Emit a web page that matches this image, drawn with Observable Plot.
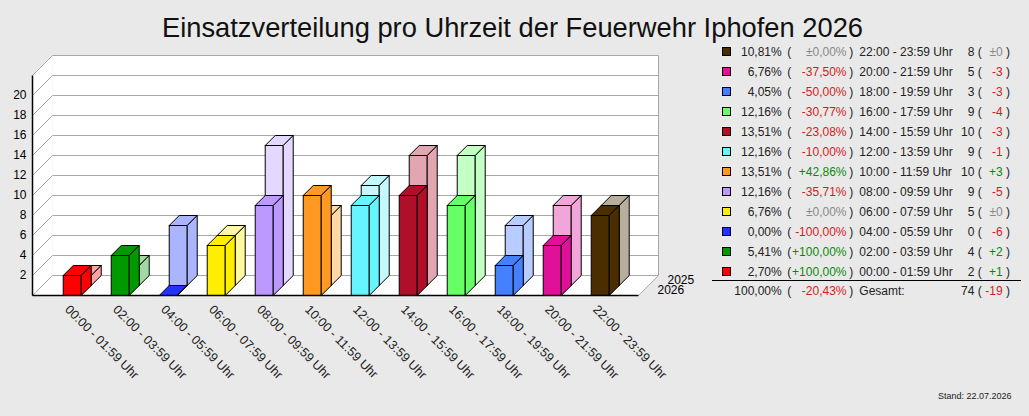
<!DOCTYPE html>
<html>
<head>
<meta charset="utf-8">
<script src="https://cdn.jsdelivr.net/npm/d3@7"></script>
<script src="https://cdn.jsdelivr.net/npm/@observablehq/plot@0.6"></script>
<style>
  html, body { margin: 0; padding: 0; background: #e9e9e9; }
  #wrap { position: relative; width: 1029px; height: 416px; overflow: hidden; background: #e9e9e9;
          font-family: "Liberation Sans", Arial, sans-serif; color: #222; }
  #title { position: absolute; left: 0; top: 12px; width: 1025px; text-align: center; font-size: 27.3px; line-height: 31px; color: #111; white-space: nowrap; }
  #chart { position: absolute; left: 0; top: 0; }
  .c { position: absolute; font-size: 12px; line-height: 14px; height: 14px; white-space: nowrap; }
  .r { text-align: right; }
  .sq { position: absolute; width: 9px; height: 9px; box-sizing: border-box; border: 1px solid #000; }
  #stand { position: absolute; left: 938px; top: 391px; font-size: 9px; line-height: 11px; color: #222; }
</style>
</head>
<body>
<div id="wrap">
  <div id="chart"></div>
  <div id="title">Einsatzverteilung pro Uhrzeit der Feuerwehr Iphofen 2026</div>
  <div id="legend"></div>
  <div id="stand">Stand: 22.07.2026</div>
</div>
<script>
// ---- data ----
const categories = ["00:00 - 01:59 Uhr","02:00 - 03:59 Uhr","04:00 - 05:59 Uhr","06:00 - 07:59 Uhr",
  "08:00 - 09:59 Uhr","10:00 - 11:59 Uhr","12:00 - 13:59 Uhr","14:00 - 15:59 Uhr",
  "16:00 - 17:59 Uhr","18:00 - 19:59 Uhr","20:00 - 21:59 Uhr","22:00 - 23:59 Uhr"];
const values2026 = [2, 4, 0, 5, 9, 10, 9, 10, 9, 3, 5, 8];
const values2025 = [1, 2, 6, 5, 14, 7, 10, 13, 13, 6, 8, 8];
const colors2026 = ["#ff0000","#009900","#2233ff","#ffee00","#bb99ff","#ff9922",
  "#66f4ff","#b00f2a","#66ff66","#4480ff","#e0109a","#4a2e00"];
const colors2025 = ["#ffa2a2","#a2d8a2","#aab4ff","#fff8a2","#e4d8ff","#ffd8a8",
  "#c4f8ff","#e2a6b0","#c4ffc4","#b8ccff","#f0a6d8","#b8ae9c"];
const seriesLabels = ["2026", "2025"];
const yTicks = [2, 4, 6, 8, 10, 12, 14, 16, 18, 20];
const yGrid = [0, 2, 4, 6, 8, 10, 12, 14, 16, 18, 20, 22];

// ---- geometry (scale units) ----
const slotPx = 48;            // px per category
const dX = 10 / slotPx;       // depth per row in x units
const dY = 1;                 // depth per row in y units (10px)
const barW = 18 / slotPx;
const xLeft = -0.64, xRight = 11.985;
const yMax = 22;

function bar(i, v, layer, color, id) {
  const L = i + layer * dX, b = layer * dY, t = v + layer * dY;
  const polys = [
    [[L, b], [L + barW, b], [L + barW, t], [L, t]],
    [[L, t], [L + barW, t], [L + barW + dX, t + dY], [L + dX, t + dY]],
    [[L + barW, b], [L + barW + dX, b + dY], [L + barW + dX, t + dY], [L + barW, t]]
  ];
  const pts = [];
  polys.forEach((p, k) => {
    [...p, p[0]].forEach(([x, y]) => pts.push({x, y, z: id + "-" + k, color}));
  });
  return pts;
}
const polyPts = [];
categories.forEach((c, i) => polyPts.push(...bar(i, values2025[i], 1, colors2025[i], "b" + i)));
categories.forEach((c, i) => polyPts.push(...bar(i, values2026[i], 0, colors2026[i], "f" + i)));

function poly(points, id, color) {
  return [...points, points[0]].map(([x, y]) => ({x, y, z: id, color}));
}
const bx = 2 * dX, by = 2 * dY;
const walls = [
  ...poly([[xLeft, 0], [xLeft, yMax], [xLeft + bx, yMax + by], [xLeft + bx, by]], "lw", "white"),
  ...poly([[xLeft + bx, by], [xLeft + bx, yMax + by], [xRight + bx, yMax + by], [xRight + bx, by]], "bw", "white"),
  ...poly([[xLeft, 0], [xRight, 0], [xRight + bx, by], [xLeft + bx, by]], "fl", "white")
];

const chart = Plot.plot({
  width: 700, height: 416,
  marginTop: 0, marginRight: 0, marginBottom: 0, marginLeft: 0,
  x: {type: "linear", domain: [xLeft, xRight], range: [32, 638], axis: null},
  y: {type: "linear", domain: [0, yMax], range: [295, 75], axis: null},
  color: {type: "identity"},
  style: {background: "transparent", fontFamily: "'Liberation Sans', Arial, sans-serif", fontSize: "12px", color: "#000", overflow: "visible"},
  marks: [
    Plot.line(walls, {x: "x", y: "y", z: "z", fill: "color", stroke: "none"}),
    // back wall gridlines
    Plot.link(yGrid, {x1: () => xLeft + bx, x2: () => xRight + bx, y1: d => d + by, y2: d => d + by, stroke: "#a8a8a8", strokeWidth: 1}),
    // left wall diagonals
    Plot.link(yGrid, {x1: () => xLeft, x2: () => xLeft + bx, y1: d => d, y2: d => d + by, stroke: "#a8a8a8", strokeWidth: 1}),
    // back wall right edge and floor right edge
    Plot.link([0], {x1: () => xRight + bx, x2: () => xRight + bx, y1: by, y2: yMax + by, stroke: "#a8a8a8"}),
    Plot.link([0], {x1: () => xRight, x2: () => xRight + bx, y1: 0, y2: by, stroke: "#a8a8a8"}),
    // bars
    Plot.line(polyPts, {x: "x", y: "y", z: "z", fill: "color", stroke: "#000", strokeWidth: 1, strokeLinejoin: "miter"}),
    // axes
    Plot.link([0], {x1: () => xLeft, x2: () => xLeft, y1: 0, y2: yMax, stroke: "#000", strokeWidth: 1.5}),
    Plot.link([0], {x1: () => xLeft, x2: () => xRight, y1: 0, y2: 0, stroke: "#000", strokeWidth: 1.5}),
    Plot.text(yTicks, {x: () => xLeft, y: d => d, text: d => String(d), textAnchor: "end", dx: -6, fill: "#000"}),
    Plot.text(categories, {x: (d, i) => i + barW / 2, y: () => 0, text: d => d, rotate: 45, textAnchor: "start", dx: -5, dy: 12, fontSize: 12.6, fill: "#222"}),
    Plot.text(seriesLabels, {x: (d, i) => xRight + (i + 0.5) * dX, y: (d, i) => (i + 0.5) * dY, text: d => d, textAnchor: "start", dx: 14, fill: "#000"})
  ]
});
document.getElementById("chart").appendChild(chart);

// ---- legend ----
const total2026 = d3.sum(values2026), total2025 = d3.sum(values2025);
const fmt = v => v.toFixed(2).replace(".", ",");
function chgPct(a, b) {
  const p = (a - b) / b * 100;
  if (Math.abs(p) < 1e-9) return {t: "±0,00%", c: "#888"};
  return p > 0 ? {t: "+" + fmt(p) + "%", c: "#0a8a0a"} : {t: "-" + fmt(-p) + "%", c: "#d41c1c"};
}
function chgAbs(a, b) {
  const d = a - b;
  if (d === 0) return {t: "±0", c: "#888"};
  return d > 0 ? {t: "+" + d, c: "#0a8a0a"} : {t: String(d), c: "#d41c1c"};
}
const legend = document.getElementById("legend");
function cell(text, yc, opts) {
  const s = document.createElement("div");
  s.className = "c" + (opts.right != null ? " r" : "");
  s.textContent = text;
  s.style.top = (yc - 7) + "px";
  if (opts.right != null) s.style.right = (1029 - opts.right) + "px";
  else s.style.left = opts.left + "px";
  if (opts.color) s.style.color = opts.color;
  legend.appendChild(s);
}
function row(yc, pct, cp, label, count, ca, color) {
  if (color) {
    const sq = document.createElement("div");
    sq.className = "sq"; sq.style.left = "721.5px"; sq.style.top = (yc - 4.5) + "px"; sq.style.background = color;
    legend.appendChild(sq);
  }
  cell(pct, yc, {right: 781.7});
  cell("(", yc, {left: 787.3});
  cell(cp.t, yc, {right: 846.5, color: cp.c});
  cell(")", yc, {left: 849.3});
  cell(label, yc, {left: 859.3});
  cell(String(count), yc, {right: 974.3});
  cell("(", yc, {left: 977.7});
  cell(ca.t, yc, {right: 1002.7, color: ca.c});
  cell(")", yc, {left: 1006});
}
for (let r = 0; r < categories.length; r++) {
  const i = categories.length - 1 - r;
  const yc = 51.7 + 20 * r;
  row(yc, fmt(values2026[i] / total2026 * 100) + "%", chgPct(values2026[i], values2025[i]),
      categories[i], values2026[i], chgAbs(values2026[i], values2025[i]), colors2026[i]);
}
const sep = document.createElement("div");
sep.style.cssText = "position:absolute;left:711.7px;top:280px;width:309px;height:1px;background:#000;";
legend.appendChild(sep);
row(290.5, fmt(100) + "%", chgPct(total2026, total2025), "Gesamt:", total2026, chgAbs(total2026, total2025), null);
</script>
</body>
</html>
